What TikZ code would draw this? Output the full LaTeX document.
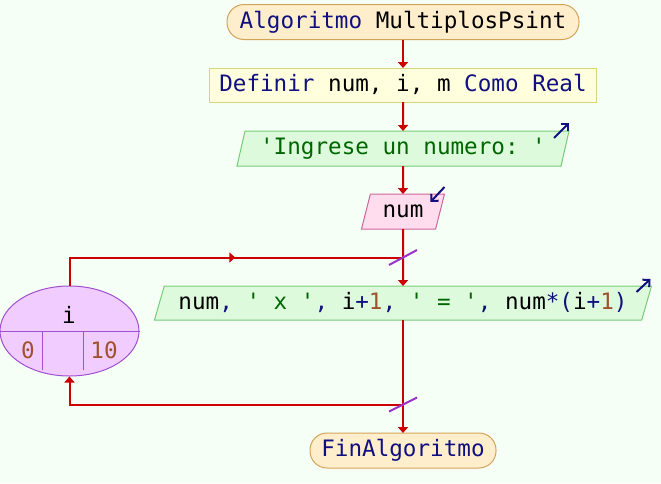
\documentclass[tikz,border=0pt]{standalone}
\usepackage{fontspec}
\setmonofont{DejaVu Sans Mono}
\usetikzlibrary{shapes.geometric,arrows.meta,decorations.markings}
\definecolor{bg}{HTML}{F5FFF5}
\definecolor{termF}{HTML}{FFEECC}
\definecolor{termB}{HTML}{D4A35A}
\definecolor{defF}{HTML}{FFFFDD}
\definecolor{defB}{HTML}{D6D67A}
\definecolor{outF}{HTML}{DDFADD}
\definecolor{outB}{HTML}{77CC77}
\definecolor{inF}{HTML}{FFDDEE}
\definecolor{inB}{HTML}{CC6699}
\definecolor{ellF}{HTML}{F0CCFF}
\definecolor{ellB}{HTML}{A050D0}
\definecolor{flowC}{HTML}{CC0000}
\definecolor{tickC}{HTML}{9933CC}
\definecolor{kwC}{HTML}{101080}
\definecolor{strC}{HTML}{006600}
\definecolor{numC}{HTML}{A0522D}
\newcommand{\pKw}[1]{\textcolor{kwC}{#1}}
\newcommand{\pStr}[1]{\textcolor{strC}{#1}}
\newcommand{\pNum}[1]{\textcolor{numC}{#1}}
\begin{document}
\begin{tikzpicture}[x=1pt,y=-1pt,
  font=\ttfamily\fontsize{22.6pt}{26pt}\selectfont,
  base/.style={text height=17pt,text depth=5pt,inner sep=0pt,line width=1pt,outer sep=0pt},
  term/.style={base,draw=termB,fill=termF,rounded corners=17pt,minimum height=35pt},
  procbox/.style={base,draw=defB,fill=defF,minimum height=34pt},
  para/.style={base,trapezium,trapezium stretches body=true},
  outp/.style={para,draw=outB,fill=outF},
  inp/.style={para,draw=inB,fill=inF},
  flow/.style={draw=flowC,line width=2pt,-{Triangle[width=10pt,length=6pt]}},
  flowline/.style={draw=flowC,line width=2pt},
  tickmark/.style={draw=tickC,line width=2pt},
  navyarr/.style={draw=kwC,line width=2pt,-{Straight Barb[length=5pt,width=10pt]}}
]
\fill[bg] (0,0) rectangle (661,483);
\useasboundingbox (0,0) rectangle (661,483);

\node[term,minimum width=352pt] (st) at (403,22) {\pKw{Algoritmo} MultiplosPsint};
\node[procbox,minimum width=387pt] (def) at (403,85) {\pKw{Definir} num, i, m \pKw{Como Real}};
\node[outp,trapezium left angle=70,trapezium right angle=110,minimum width=332pt,minimum height=35pt] (o1) at (403,148.5) {\pStr{'Ingrese un numero: '}};
\node[inp,trapezium left angle=68,trapezium right angle=112,minimum width=83pt,minimum height=35pt] (in) at (403,211.5) {num};
\node[outp,trapezium left angle=66,trapezium right angle=114,minimum width=497pt,minimum height=34pt] (o2) at (403,303) {num\pKw{,} \pStr{' x '}\pKw{,} i\pKw{+}\pNum{1}\pKw{,} \pStr{' = '}\pKw{,} num\pKw{*(}i\pKw{+}\pNum{1}\pKw{)}};
\node[term,minimum width=186pt] (fin) at (403,450.5) {\pKw{FinAlgoritmo}};

\node[ellipse,draw=ellB,fill=ellF,line width=1pt,minimum width=139pt,minimum height=90pt,inner sep=0pt] (ell) at (69.5,331) {};
\draw[draw=ellB,line width=1pt] (ell.west) -- (ell.east);
\draw[draw=ellB,line width=1pt] ([xshift=-27.5pt]ell.center) -- ++(0,39);
\draw[draw=ellB,line width=1pt] ([xshift=13.5pt]ell.center) -- ++(0,39);
\node[base] (iv) at (69,317) {i};
\node[base,text=numC] (v0) at (28,352) {0};
\node[base,text=numC] (v10) at (104,352) {10};

\coordinate (jt) at (403,257.5);
\coordinate (jb) at (403,404.5);

\draw[flow] (st) -- (def);
\draw[flow] (def) -- (o1);
\draw[flow] (o1) -- (in);
\draw[flow] (in) -- (o2);
\draw[flow] (o2) -- (fin);

\draw[flowline,postaction={decorate},decoration={markings,mark=at position 0.536 with {\arrow{Triangle[width=10pt,length=6pt]}}}] (ell.north) |- (jt);
\draw[flow] (jb) -| (ell.south);

\draw[tickmark] ([shift={(-14,7.5)}]jt) -- ([shift={(14,-7.5)}]jt);
\draw[tickmark] ([shift={(-14,7)}]jb) -- ([shift={(14,-7)}]jb);

\draw[navyarr] ([shift={(-15,7)}]o1.top right corner) -- ([shift={(0,-8)}]o1.top right corner);
\draw[navyarr] ([shift={(-15,6)}]o2.top right corner) -- ([shift={(-1,-7)}]o2.top right corner);
\draw[navyarr] ([shift={(0,-7)}]in.top right corner) -- ([shift={(-14,8)}]in.top right corner);
\end{tikzpicture}
\end{document}
